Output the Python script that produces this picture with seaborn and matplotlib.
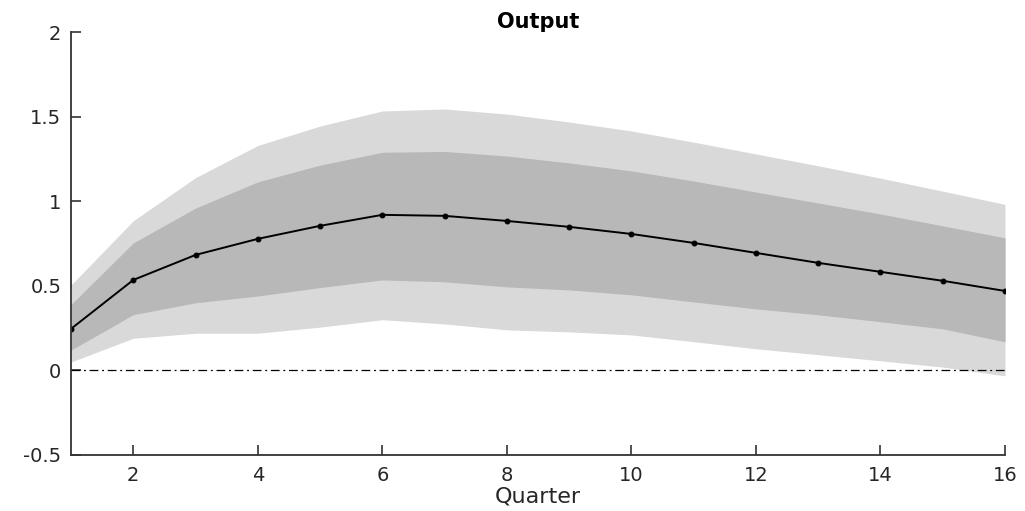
import numpy as np
import pandas as pd
import matplotlib
matplotlib.use("Agg")
import matplotlib.pyplot as plt
import seaborn as sns

# Impulse response of output with 68% and 90% credible bands
quarters = list(range(1, 17))
median = [0.246, 0.535, 0.683, 0.778, 0.855, 0.920, 0.914, 0.884,
          0.849, 0.807, 0.754, 0.695, 0.636, 0.583, 0.530, 0.470]
inner_upper = [0.39, 0.754, 0.96, 1.115, 1.214, 1.29, 1.295, 1.268,
               1.227, 1.18, 1.12, 1.055, 0.99, 0.925, 0.855, 0.784]
inner_lower = [0.12, 0.33, 0.40, 0.44, 0.49, 0.535, 0.524, 0.494,
               0.476, 0.447, 0.405, 0.364, 0.329, 0.288, 0.246, 0.169]
outer_upper = [0.505, 0.885, 1.14, 1.33, 1.445, 1.534, 1.546, 1.516,
               1.469, 1.416, 1.35, 1.28, 1.21, 1.137, 1.06, 0.982]
outer_lower = [0.05, 0.19, 0.22, 0.22, 0.256, 0.30, 0.275, 0.24,
               0.228, 0.21, 0.17, 0.128, 0.093, 0.057, 0.02, -0.032]

x_ticks = [2, 4, 6, 8, 10, 12, 14, 16]
y_ticks = [-0.5, 0, 0.5, 1, 1.5, 2]
y_tick_labels = ["-0.5", "0", "0.5", "1", "1.5", "2"]

sns.set_style("ticks")
plt.rcParams["font.family"] = ["DejaVu Sans"]

df = pd.DataFrame({"Quarter": quarters, "Response": median})

fig = plt.figure(figsize=(10.25, 5.11), dpi=100)
ax = fig.add_axes([0.0693, 0.1096, 0.9112, 0.8274])

ax.fill_between(quarters, outer_lower, outer_upper, color="#d9d9d9",
                linewidth=0, zorder=1)
ax.fill_between(quarters, inner_lower, inner_upper, color="#b8b8b8",
                linewidth=0, zorder=2)
ax.axhline(0, color="black", linewidth=0.9, linestyle=(0, (7, 3, 1.5, 3)),
           zorder=3)
sns.lineplot(data=df, x="Quarter", y="Response", ax=ax, color="black",
             linewidth=1.4, marker="o", markersize=3.5,
             markeredgecolor="black", zorder=4)

ax.set_xlim(1, 16)
ax.set_ylim(-0.5, 2)
ax.set_xticks(x_ticks)
ax.set_xticklabels([str(t) for t in x_ticks])
ax.set_yticks(y_ticks)
ax.set_yticklabels(y_tick_labels)

for side in ("top", "right"):
    ax.spines[side].set_visible(False)
for side in ("left", "bottom"):
    ax.spines[side].set_color("#333333")
    ax.spines[side].set_linewidth(1.3)
    ax.spines[side].set_zorder(5)

ax.tick_params(direction="in", length=7.5, width=1.2, color="#333333",
               labelsize=14, labelcolor="#262626")
ax.tick_params(axis="x", pad=8)
ax.tick_params(axis="y", pad=7)
ax.set_xlabel("Quarter", fontsize=16, color="#262626", labelpad=1)
ax.set_ylabel("")
ax.set_title("Output", fontsize=15, fontweight="bold", color="black", pad=3)

fig.savefig("out.png", dpi=100)
